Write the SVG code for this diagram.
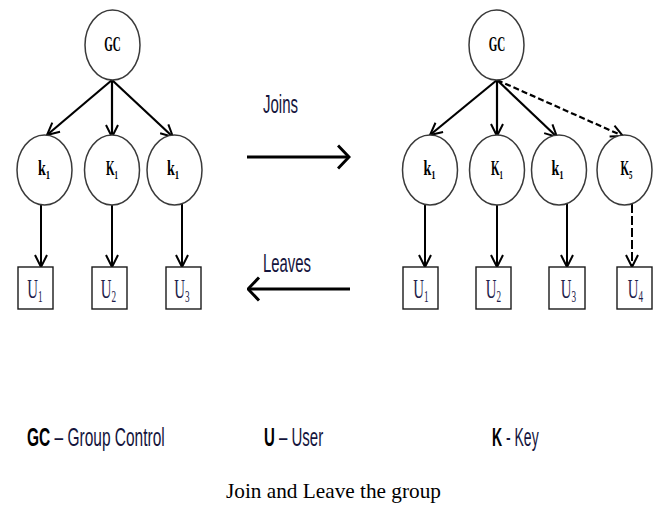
<svg xmlns="http://www.w3.org/2000/svg" width="660" height="505" viewBox="0 0 660 505">
  <style>
    .node { fill: #ffffff; stroke: #3a3a3a; stroke-width: 1.5; }
    .box { fill: #ffffff; stroke: #1a1a1a; stroke-width: 1.4; }
    .edge { fill: none; stroke: #000000; stroke-width: 2.2; }
    .edge-v { fill: none; stroke: #000000; stroke-width: 2; }
    .dash { stroke-dasharray: 6 3; }
    .dash-v { stroke-dasharray: 9 3; }
    .flow { fill: none; stroke: #000000; stroke-width: 3; }
    .gc { font-family: "Liberation Serif", "Times New Roman", serif; font-weight: bold; font-size: 22px; fill: #000; }
    .kl { font-family: "Liberation Serif", "Times New Roman", serif; font-weight: bold; font-size: 20px; fill: #000; }
    .ul { font-family: "Liberation Serif", "Times New Roman", serif; font-size: 27px; fill: #1c1c4a; }
    .sub { font-size: 62%; }
    .lab { font-family: "Liberation Sans Narrow", "Liberation Sans", Arial, sans-serif; font-size: 25px; fill: #14143c; }
    .b { font-weight: bold; fill: #000; }
    .cap { font-family: "Liberation Serif", "Times New Roman", serif; font-size: 21px; fill: #000; }
  </style>
  <defs>
    <marker id="head" viewBox="0 0 14 14" markerWidth="14" markerHeight="14" refX="13" refY="7" orient="auto" markerUnits="userSpaceOnUse">
      <path d="M1,1 L13,7 L1,13" fill="none" stroke="#000" stroke-width="2"/>
    </marker>
    <marker id="bighead" viewBox="0 0 14 26" markerWidth="14" markerHeight="26" refX="12.5" refY="13" orient="auto" markerUnits="userSpaceOnUse">
      <path d="M1.5,1.5 L12.5,13 L1.5,24.5" fill="none" stroke="#000" stroke-width="3"/>
    </marker>
  </defs>

  <!-- connectors -->
  <g id="connectors">
    <!-- left tree -->
    <line class="edge" x1="112" y1="80" x2="47" y2="135" marker-end="url(#head)"/>
    <line class="edge" x1="112" y1="80" x2="112" y2="137" marker-end="url(#head)"/>
    <line class="edge" x1="112" y1="80" x2="173" y2="137" marker-end="url(#head)"/>
    <line class="edge-v" x1="41" y1="204" x2="41" y2="267" marker-end="url(#head)"/>
    <line class="edge-v" x1="112" y1="205" x2="112" y2="267" marker-end="url(#head)"/>
    <line class="edge-v" x1="182" y1="204" x2="182" y2="267" marker-end="url(#head)"/>
    <!-- right tree -->
    <line class="edge" x1="497" y1="80" x2="430" y2="135" marker-end="url(#head)"/>
    <line class="edge" x1="497" y1="80" x2="497" y2="136" marker-end="url(#head)"/>
    <line class="edge" x1="497" y1="80" x2="557" y2="137" marker-end="url(#head)"/>
    <line class="edge dash" x1="497" y1="80" x2="623" y2="136" marker-end="url(#head)"/>
    <line class="edge-v" x1="425" y1="204" x2="425" y2="267" marker-end="url(#head)"/>
    <line class="edge-v" x1="497" y1="205" x2="497" y2="267" marker-end="url(#head)"/>
    <line class="edge-v" x1="567" y1="204" x2="567" y2="267" marker-end="url(#head)"/>
    <line class="edge-v dash-v" x1="632" y1="204" x2="632" y2="267" marker-end="url(#head)"/>
    <!-- join / leave flows -->
    <line class="flow" x1="247" y1="157" x2="349" y2="157" marker-end="url(#bighead)"/>
    <line class="flow" x1="350" y1="289" x2="248" y2="289" marker-end="url(#bighead)"/>
  </g>

  <!-- left tree nodes -->
  <g id="gc-left">
    <ellipse class="node" cx="112.5" cy="45" rx="27.5" ry="35"/>
    <text class="gc" text-anchor="middle" transform="translate(112.5,51) scale(0.5,1)">GC</text>
  </g>
  <g id="k-left-1">
    <ellipse class="node" cx="44.5" cy="170" rx="27.5" ry="35"/>
    <text class="kl" text-anchor="middle" transform="translate(44,175) scale(0.7,1)">k<tspan class="sub" dy="4">1</tspan></text>
  </g>
  <g id="k-left-2">
    <ellipse class="node" cx="112" cy="170" rx="27.5" ry="35"/>
    <text class="kl" text-anchor="middle" transform="translate(112,175) scale(0.55,1)">K<tspan class="sub" dy="4">1</tspan></text>
  </g>
  <g id="k-left-3">
    <ellipse class="node" cx="174.5" cy="170" rx="27.5" ry="35"/>
    <text class="kl" text-anchor="middle" transform="translate(173,175) scale(0.7,1)">k<tspan class="sub" dy="4">1</tspan></text>
  </g>
  <g id="u-left-1">
    <rect class="box" x="18" y="267" width="35" height="42"/>
    <text class="ul" text-anchor="middle" transform="translate(35,298) scale(0.55,1)">U<tspan class="sub" dy="4">1</tspan></text>
  </g>
  <g id="u-left-2">
    <rect class="box" x="92" y="267" width="35" height="42"/>
    <text class="ul" text-anchor="middle" transform="translate(108.5,298) scale(0.55,1)">U<tspan class="sub" dy="4">2</tspan></text>
  </g>
  <g id="u-left-3">
    <rect class="box" x="166" y="267" width="35" height="42"/>
    <text class="ul" text-anchor="middle" transform="translate(182,298) scale(0.55,1)">U<tspan class="sub" dy="4">3</tspan></text>
  </g>

  <!-- right tree nodes -->
  <g id="gc-right">
    <ellipse class="node" cx="496.5" cy="45" rx="27.5" ry="35"/>
    <text class="gc" text-anchor="middle" transform="translate(497,51) scale(0.5,1)">GC</text>
  </g>
  <g id="k-right-1">
    <ellipse class="node" cx="430" cy="170" rx="27.5" ry="35"/>
    <text class="kl" text-anchor="middle" transform="translate(429.5,175) scale(0.7,1)">k<tspan class="sub" dy="4">1</tspan></text>
  </g>
  <g id="k-right-2">
    <ellipse class="node" cx="497" cy="170" rx="27.5" ry="35"/>
    <text class="kl" text-anchor="middle" transform="translate(497,175) scale(0.55,1)">K<tspan class="sub" dy="4">1</tspan></text>
  </g>
  <g id="k-right-3">
    <ellipse class="node" cx="559" cy="170" rx="27.5" ry="35"/>
    <text class="kl" text-anchor="middle" transform="translate(557.5,175) scale(0.7,1)">k<tspan class="sub" dy="4">1</tspan></text>
  </g>
  <g id="k-right-4">
    <ellipse class="node" cx="624.5" cy="170" rx="27.5" ry="35"/>
    <text class="kl" text-anchor="middle" transform="translate(626.5,175) scale(0.55,1)">K<tspan class="sub" dy="4">5</tspan></text>
  </g>
  <g id="u-right-1">
    <rect class="box" x="403" y="267" width="35" height="42"/>
    <text class="ul" text-anchor="middle" transform="translate(421,298) scale(0.55,1)">U<tspan class="sub" dy="4">1</tspan></text>
  </g>
  <g id="u-right-2">
    <rect class="box" x="476" y="267" width="35" height="42"/>
    <text class="ul" text-anchor="middle" transform="translate(493.5,298) scale(0.55,1)">U<tspan class="sub" dy="4">2</tspan></text>
  </g>
  <g id="u-right-3">
    <rect class="box" x="549" y="267" width="36" height="42"/>
    <text class="ul" text-anchor="middle" transform="translate(568.5,298) scale(0.55,1)">U<tspan class="sub" dy="4">3</tspan></text>
  </g>
  <g id="u-right-4">
    <rect class="box" x="617" y="267" width="35" height="42"/>
    <text class="ul" text-anchor="middle" transform="translate(635.5,298) scale(0.55,1)">U<tspan class="sub" dy="4">4</tspan></text>
  </g>

  <!-- flow labels -->
  <g id="flow-labels">
    <text class="lab" x="263" y="113" textLength="35" lengthAdjust="spacingAndGlyphs">Joins</text>
    <text class="lab" x="263" y="272" textLength="48" lengthAdjust="spacingAndGlyphs">Leaves</text>
  </g>

  <!-- legend -->
  <g id="legend">
    <text class="lab" transform="translate(27,446) scale(0.62,1)"><tspan class="b">GC</tspan> – Group Control</text>
    <text class="lab" transform="translate(264,446) scale(0.6,1)"><tspan class="b">U</tspan> – User</text>
    <text class="lab" transform="translate(492,446) scale(0.56,1)"><tspan class="b">K</tspan> - Key</text>
  </g>

  <text class="cap" x="226" y="498" textLength="215" lengthAdjust="spacingAndGlyphs">Join and Leave the group</text>
</svg>
